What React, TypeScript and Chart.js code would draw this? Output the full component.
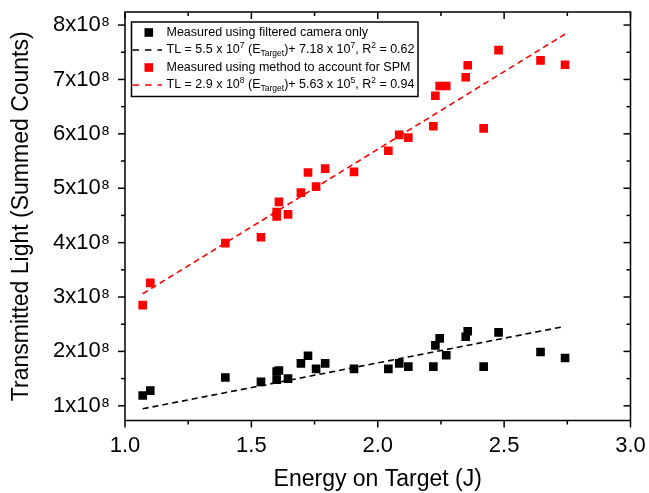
import React, { useEffect, useRef } from "react";
import { Chart, registerables } from "chart.js";

Chart.register(...registerables);

// ---------- data ----------
const energyJ = [
  1.07, 1.1, 1.397, 1.538, 1.6, 1.6, 1.609, 1.645, 1.696, 1.724, 1.756, 1.792, 1.906,
  2.042, 2.085, 2.121, 2.22, 2.228, 2.245, 2.271, 2.348, 2.356, 2.419, 2.478, 2.644, 2.741,
];
const tlCameraOnly = [
  1.19e8, 1.28e8, 1.52e8, 1.44e8, 1.48e8, 1.63e8, 1.65e8, 1.5e8, 1.78e8, 1.92e8, 1.68e8, 1.78e8, 1.68e8,
  1.68e8, 1.78e8, 1.72e8, 1.72e8, 2.11e8, 2.24e8, 1.93e8, 2.27e8, 2.37e8, 1.72e8, 2.35e8, 1.99e8, 1.88e8,
];
const tlSpmMethod = [
  2.85e8, 3.26e8, 3.99e8, 4.1e8, 4.48e8, 4.56e8, 4.75e8, 4.52e8, 4.92e8, 5.29e8, 5.03e8, 5.36e8, 5.3e8,
  5.69e8, 5.98e8, 5.93e8, 6.14e8, 6.7e8, 6.88e8, 6.88e8, 7.04e8, 7.26e8, 6.1e8, 7.54e8, 7.35e8, 7.27e8,
];
const fitCameraX = [1.07, 2.74];
const fitCameraY = [0.945e8, 2.46e8];
const fitSpmX = [1.07, 2.74];
const fitSpmY = [3.06e8, 7.83e8];

const xMajorTicks = [1.0, 1.5, 2.0, 2.5, 3.0];
const xMinorTicks = [1.25, 1.75, 2.25, 2.75];
const yMajorTicks = [1e8, 2e8, 3e8, 4e8, 5e8, 6e8, 7e8, 8e8];
const yMinorTicks = [1.5e8, 2.5e8, 3.5e8, 4.5e8, 5.5e8, 6.5e8, 7.5e8];

const legendLabels = [
  "Measured using filtered camera only",
  "Measured using method to account for SPM",
];
type Seg = { t: string; m?: "sup" | "sub" };
const eqCamera: Seg[] = [
  { t: "TL = 5.5 x 10" }, { t: "7", m: "sup" }, { t: " (E" }, { t: "Target", m: "sub" },
  { t: ")+ 7.18 x 10" }, { t: "7", m: "sup" }, { t: ", R" }, { t: "2", m: "sup" }, { t: " = 0.62" },
];
const eqSpm: Seg[] = [
  { t: "TL = 2.9 x 10" }, { t: "8", m: "sup" }, { t: " (E" }, { t: "Target", m: "sub" },
  { t: ")+ 5.63 x 10" }, { t: "5", m: "sup" }, { t: ", R" }, { t: "2", m: "sup" }, { t: " = 0.94" },
];

const FONT = '"Liberation Sans", Arial, Helvetica, sans-serif';

function drawRich(ctx: CanvasRenderingContext2D, segs: Seg[], x: number, y: number) {
  let cx = x;
  ctx.textBaseline = "middle";
  ctx.textAlign = "left";
  for (const s of segs) {
    if (s.m === "sup") {
      ctx.font = `8.5px ${FONT}`;
      ctx.fillText(s.t, cx, y - 4.5);
    } else if (s.m === "sub") {
      ctx.font = `8.5px ${FONT}`;
      ctx.fillText(s.t, cx, y + 3.5);
    } else {
      ctx.font = `12.5px ${FONT}`;
      ctx.fillText(s.t, cx, y);
    }
    cx += ctx.measureText(s.t).width;
  }
}

const framePlugin = {
  id: "frameTicksLegend",
  afterDraw(chart: any) {
    const { ctx, chartArea: a, scales } = chart;
    const xs = scales.x;
    const ys = scales.y;
    ctx.save();
    ctx.strokeStyle = "#000";
    ctx.lineWidth = 1.5;
    ctx.strokeRect(a.left, a.top, a.right - a.left, a.bottom - a.top);
    const tick = (x1: number, y1: number, x2: number, y2: number) => {
      ctx.beginPath();
      ctx.moveTo(x1, y1);
      ctx.lineTo(x2, y2);
      ctx.stroke();
    };
    for (const v of xMajorTicks) {
      const px = xs.getPixelForValue(v);
      tick(px, a.bottom, px, a.bottom + 7);
      tick(px, a.top, px, a.top + 7);
    }
    for (const v of xMinorTicks) {
      const px = xs.getPixelForValue(v);
      tick(px, a.bottom, px, a.bottom + 4);
      tick(px, a.top, px, a.top + 4);
    }
    for (const v of yMajorTicks) {
      const py = ys.getPixelForValue(v);
      tick(a.left - 7, py, a.left, py);
      tick(a.right - 7, py, a.right, py);
    }
    for (const v of yMinorTicks) {
      const py = ys.getPixelForValue(v);
      tick(a.left - 4, py, a.left, py);
      tick(a.right - 4, py, a.right, py);
    }

    // legend
    const L = 131.5, T = 22, R = 418, B = 96.5;
    ctx.fillStyle = "#fff";
    ctx.fillRect(L, T, R - L, B - T);
    ctx.lineWidth = 1.5;
    ctx.strokeStyle = "#000";
    ctx.strokeRect(L, T, R - L, B - T);
    const rows = [32.5, 50, 67.5, 85];
    const textX = 166.5;
    const colors = ["#000000", "#ff0000"];
    for (let k = 0; k < 2; k++) {
      const ySym = rows[k * 2];
      const yLine = rows[k * 2 + 1];
      ctx.fillStyle = colors[k];
      ctx.fillRect(144.5, ySym - 4.3, 8.6, 8.6);
      ctx.strokeStyle = colors[k];
      ctx.lineWidth = 1.5;
      ctx.setLineDash([6.5, 6]);
      ctx.beginPath();
      ctx.moveTo(132.5, yLine);
      ctx.lineTo(162, yLine);
      ctx.stroke();
      ctx.setLineDash([]);
      ctx.fillStyle = "#000";
      ctx.font = `12.5px ${FONT}`;
      ctx.textBaseline = "middle";
      ctx.textAlign = "left";
      ctx.fillText(legendLabels[k], textX, ySym);
      drawRich(ctx, k === 0 ? eqCamera : eqSpm, textX, yLine);
    }
    ctx.restore();
  },
};

export default function App() {
  const ref = useRef<HTMLCanvasElement | null>(null);
  useEffect(() => {
    document.body.style.margin = "0";
    const canvas = ref.current;
    if (!canvas) return;
    const pts = (xa: number[], ya: number[]) => xa.map((x, i) => ({ x, y: ya[i] }));
    const chart = new Chart(canvas, {
      type: "scatter",
      data: {
        datasets: [
          {
            label: "TL fit (camera only)",
            data: pts(fitCameraX, fitCameraY),
            showLine: true,
            borderColor: "#000",
            borderWidth: 1.6,
            borderDash: [6, 4],
            pointRadius: 0,
            fill: false,
          },
          {
            label: "TL fit (SPM method)",
            data: pts(fitSpmX, fitSpmY),
            showLine: true,
            borderColor: "#ff0000",
            borderWidth: 1.6,
            borderDash: [6, 4],
            pointRadius: 0,
            fill: false,
          },
          {
            label: legendLabels[0],
            data: pts(energyJ, tlCameraOnly),
            pointStyle: "rect",
            pointRadius: 6.1,
            backgroundColor: "#000",
            borderWidth: 0,
          },
          {
            label: legendLabels[1],
            data: pts(energyJ, tlSpmMethod),
            pointStyle: "rect",
            pointRadius: 6.1,
            backgroundColor: "#ff0000",
            borderWidth: 0,
          },
        ],
      } as any,
      options: {
        animation: false,
        responsive: false,
        maintainAspectRatio: false,
        layout: { padding: { left: 0, right: 18.5, top: 12, bottom: 0 } },
        plugins: { legend: { display: false }, tooltip: { enabled: false } },
        scales: {
          x: {
            type: "linear",
            min: 1,
            max: 3,
            afterBuildTicks: (s: any) => { s.ticks = xMajorTicks.map((v) => ({ value: v })); },
            afterFit: (s: any) => {
              s.height = 72.5;
              s.paddingLeft = 0;
              s.paddingRight = 0;
            },
            grid: { display: false, drawTicks: false },
            border: { display: false },
            ticks: {
              color: "#000",
              padding: 12,
              maxRotation: 0,
              autoSkip: false,
              font: { family: FONT, size: 22 },
              callback: (v: any) => Number(v).toFixed(1),
            },
            title: {
              display: true,
              text: "Energy on Target (J)",
              color: "#000",
              font: { family: FONT, size: 23 },
              padding: { top: 0, bottom: 0 },
            },
          },
          y: {
            type: "linear",
            min: 0.73e8,
            max: 8.24e8,
            afterBuildTicks: (s: any) => { s.ticks = yMajorTicks.map((v) => ({ value: v })); },
            afterFit: (s: any) => {
              s.width = 125;
              s.paddingTop = 0;
              s.paddingBottom = 0;
            },
            grid: { display: false, drawTicks: false },
            border: { display: false },
            ticks: {
              color: "#000",
              padding: 15,
              autoSkip: false,
              font: { family: FONT, size: 22 },
              callback: (v: any) => `${Math.round(Number(v) / 1e8)}x10⁸`,
            },
            title: {
              display: true,
              text: "Transmitted Light (Summed Counts)",
              color: "#000",
              font: { family: FONT, size: 23 },
              padding: { top: 8, bottom: 0 },
            },
          },
        },
      } as any,
      plugins: [framePlugin],
    });
    return () => chart.destroy();
  }, []);
  return (
    <div style={{ width: 649, height: 493 }}>
      <canvas ref={ref} width={649} height={493} style={{ display: "block" }} />
    </div>
  );
}
